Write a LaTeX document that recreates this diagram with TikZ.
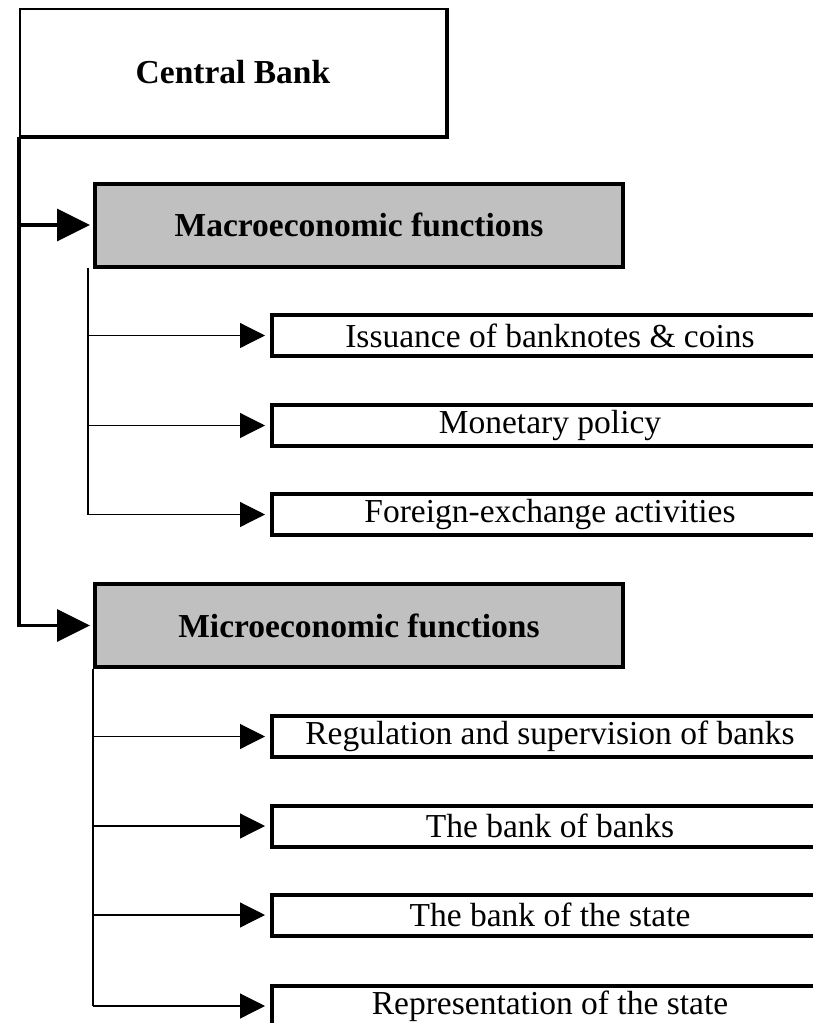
\documentclass[tikz,border=0pt]{standalone}
\usepackage{fontspec}
\setmainfont{Liberation Serif}
\usetikzlibrary{arrows.meta}
\definecolor{boxgray}{HTML}{C0C0C0}

\begin{document}
\begin{tikzpicture}[x=0.5pt, y=-0.5pt,
        font=\fontsize{16.75}{20}\selectfont,
        headbox/.style={draw, line width=1pt, inner sep=0pt, minimum width=213pt, minimum height=63.5pt, font=\fontsize{16.75}{20}\selectfont\bfseries},
        groupbox/.style={draw, line width=2pt, fill=boxgray, inner sep=0pt, minimum width=264pt, minimum height=41.5pt, font=\fontsize{16.75}{20}\selectfont\bfseries},
        itembox/.style={draw, line width=2pt, inner sep=0pt, minimum width=278pt, minimum height=20.5pt},
        bigarrow/.style={line width=1.8pt, -{Triangle[length=16.5pt, width=16pt]}, shorten >=1.5pt},
        smallarrow/.style={line width=0.6pt, -{Triangle[length=12.5pt, width=12.5pt]}, shorten >=2.5pt}]
        \useasboundingbox (0, 0) rectangle (813, 1023);
        \clip (0, 0) rectangle (813, 1023);

        \node[headbox] (bank) at (233, 72.5) {Central Bank};
        \draw[line width=2pt] (bank.north east) -- (bank.south east) -- (bank.south west);

        \node[groupbox] (macro) at (359, 225) {Macroeconomic functions};
        \node[groupbox] (micro) at (359, 625.5) {Microeconomic functions};

        \node[itembox] (issue) at (550, 335.5) {Issuance of banknotes \& coins};
        \node[itembox] (policy) at (550, 425.5) {Monetary policy};
        \node[itembox] (forex) at (550, 514.5) {Foreign-exchange activities};

        \node[itembox] (regul) at (550, 736.5) {Regulation and supervision of banks};
        \node[itembox] (banks) at (550, 826) {The bank of banks};
        \node[itembox] (state) at (550, 915) {The bank of the state};
        \node[itembox] (repr) at (550, 1006) {Representation of the state};

        % main branch
        \draw[bigarrow] (bank.south west) |- (micro.west);
        \draw[bigarrow] (bank.south west |- macro.west) -- (macro.west);

        % macroeconomic branch
        \coordinate (macrotrunk) at (88, 268);
        \draw[line width=0.6pt] (macrotrunk) -- (macrotrunk |- forex.west);
        \draw[smallarrow] (macrotrunk |- issue.west) -- (issue.west);
        \draw[smallarrow] (macrotrunk |- policy.west) -- (policy.west);
        \draw[smallarrow] (macrotrunk |- forex.west) -- (forex.west);

        % microeconomic branch
        \draw[line width=0.6pt] (micro.south west) -- (micro.south west |- repr.west);
        \draw[smallarrow] (micro.south west |- regul.west) -- (regul.west);
        \draw[smallarrow] (micro.south west |- banks.west) -- (banks.west);
        \draw[smallarrow] (micro.south west |- state.west) -- (state.west);
        \draw[smallarrow] (micro.south west |- repr.west) -- (repr.west);
    \end{tikzpicture}
\end{document}
